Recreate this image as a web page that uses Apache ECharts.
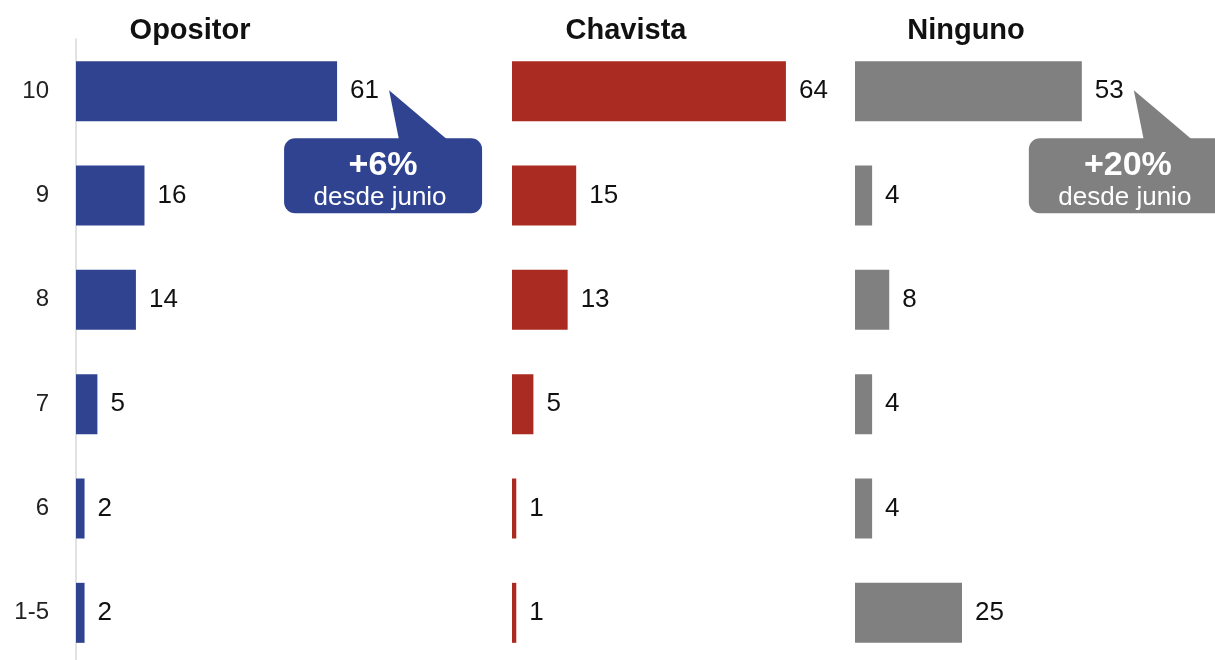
<!DOCTYPE html>
<html>
<head>
<meta charset="utf-8">
<script src="https://cdn.jsdelivr.net/npm/echarts@6/dist/echarts.min.js"></script>
<style>
html,body{margin:0;padding:0;background:#fff;overflow:hidden;}
#chart{width:1215px;height:672px;}
</style>
</head>
<body>
<div id="chart"></div>
<script>
const categories = ['10', '9', '8', '7', '6', '1-5'];
const opositor = [61, 16, 14, 5, 2, 2];
const chavista = [64, 15, 13, 5, 1, 1];
const ninguno = [53, 4, 8, 4, 4, 25];
const panelTitles = ['Opositor', 'Chavista', 'Ninguno'];
const panelColors = ['#2F4391', '#A92B21', '#808080'];
const callouts = [
  { panel: 0, cat: '10', value: 61, big: '+6%', small: 'desde junio', color: '#2F4391' },
  { panel: 2, cat: '10', value: 53, big: '+20%', small: 'desde junio', color: '#808080' }
];

const FONT = '"Liberation Sans", Arial, Helvetica, sans-serif';
const panelLefts = [76, 512, 855];
const panelCenters = [190, 626, 966];
const xMax = 70;
const unitPx = 4.28;
const seriesData = [opositor, chavista, ninguno];

const chart = echarts.init(document.getElementById('chart'));

const grids = [], xAxes = [], yAxes = [], series = [], titles = [];
for (let i = 0; i < 3; i++) {
  grids.push({ left: panelLefts[i], top: 39, height: 626, width: xMax * unitPx, containLabel: false });
  xAxes.push({ type: 'value', gridIndex: i, min: 0, max: xMax, show: false });
  yAxes.push({
    type: 'category', gridIndex: i, data: categories, inverse: true,
    axisTick: { show: false },
    axisLine: { show: i === 0, lineStyle: { color: '#d9d9d9', width: 1.5 } },
    axisLabel: { show: i === 0, fontSize: 24, color: '#222', fontFamily: FONT, margin: 27 },
    splitLine: { show: false }
  });
  series.push({
    type: 'bar', xAxisIndex: i, yAxisIndex: i, data: seriesData[i],
    barWidth: 60,
    itemStyle: { color: panelColors[i] },
    label: { show: true, position: 'right', distance: 13, fontSize: 26, color: '#111', fontFamily: FONT },
    silent: true
  });
  titles.push({
    text: panelTitles[i], left: panelCenters[i], top: 16, textAlign: 'center', padding: 0,
    textStyle: { fontSize: 29, fontWeight: 'bold', color: '#111', fontFamily: FONT }
  });
}

chart.setOption({
  animation: false,
  title: titles,
  grid: grids,
  xAxis: xAxes,
  yAxis: yAxes,
  series: series
});

const graphics = [];
callouts.forEach(c => {
  const p = chart.convertToPixel({ gridIndex: c.panel }, [c.value, c.cat]);
  const ax = p[0] + 52, ay = p[1] - 1;
  const boxL = ax - 105, boxR = ax + 93, boxT = p[1] + 47, boxB = p[1] + 122;
  graphics.push({
    type: 'polygon',
    shape: { points: [[ax + 10, boxT + 2], [ax + 59, boxT + 2], [ax, ay]] },
    style: { fill: c.color }
  });
  graphics.push({
    type: 'rect',
    shape: { x: boxL, y: boxT, width: boxR - boxL, height: boxB - boxT, r: 11 },
    style: { fill: c.color }
  });
  const cx = (boxL + boxR) / 2;
  graphics.push({
    type: 'text',
    style: { text: c.big, x: cx, y: p[1] + 74, fill: '#fff', fontSize: 34, fontWeight: 'bold', fontFamily: FONT, align: 'center', verticalAlign: 'middle' }
  });
  graphics.push({
    type: 'text',
    style: { text: c.small, x: cx - 3, y: p[1] + 107, fill: '#fff', fontSize: 26, fontFamily: FONT, align: 'center', verticalAlign: 'middle' }
  });
});
chart.setOption({ graphic: graphics });
</script>
</body>
</html>
